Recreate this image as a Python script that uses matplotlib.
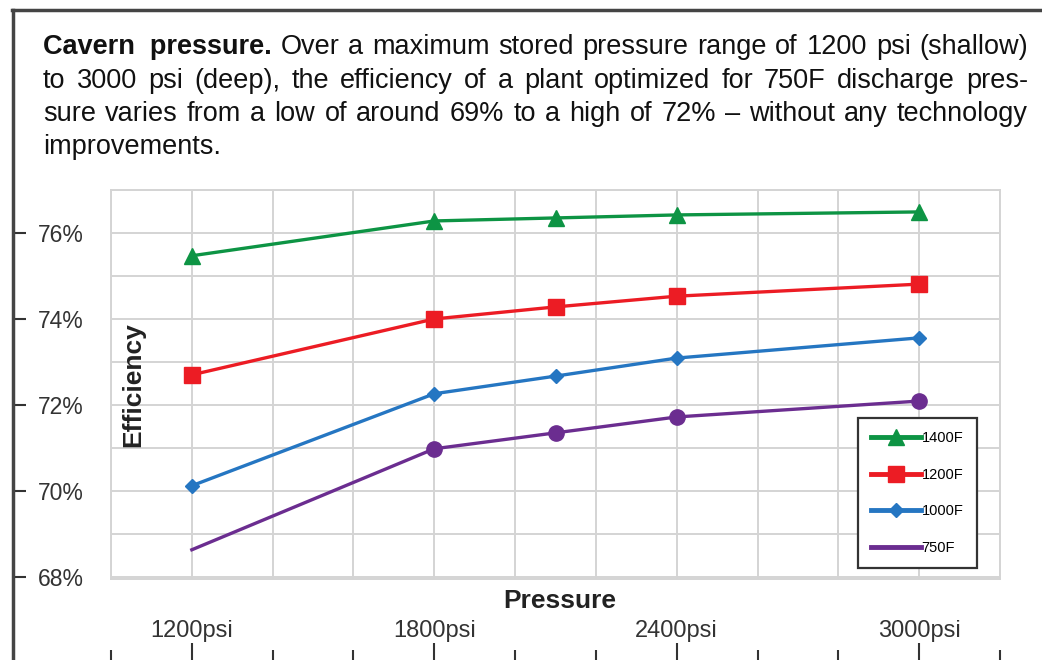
import matplotlib
matplotlib.use("Agg")
import matplotlib.pyplot as plt
from matplotlib.lines import Line2D
from matplotlib.ticker import FixedLocator

plt.rcParams['font.family'] = ['Liberation Sans', 'DejaVu Sans']

# data
pressure = [1200, 1800, 2100, 2400, 3000]
eff_1400 = [75.47, 76.28, 76.35, 76.42, 76.49]
eff_1200 = [72.70, 74.00, 74.28, 74.53, 74.81]
eff_1000 = [70.12, 72.26, 72.67, 73.09, 73.56]
eff_750 = [68.63, 70.98, 71.35, 71.72, 72.09]
y_ticks = [68, 70, 72, 74, 76]
x_major = [1200, 1800, 2400, 3000]
x_minor = [1000, 1400, 1600, 2000, 2200, 2600, 2800, 3200]

caption_bold = "Cavern  pressure."
caption_lines = [
    "Over a maximum stored pressure range of 1200 psi (shallow)",
    "to 3000 psi (deep), the efficiency of a plant optimized for 750F discharge pres-",
    "sure varies from a low of around 69% to a high of 72% \u2013 without any technology",
    "improvements.",
]

W, H = 1042, 660
XLIM = (1000, 3200)
YLIM = (67.95, 77)
fig = plt.figure(figsize=(W / 100, H / 100), dpi=100)


def fx(px):
    return px / W


def fy(py):
    return 1 - py / H


# main plot area
ax = fig.add_axes([fx(111), fy(579), fx(1000) - fx(111), fy(190) - fy(579)])
ax.set_xlim(*XLIM)
ax.set_ylim(*YLIM)
ax.xaxis.set_major_locator(FixedLocator(list(range(1000, 3201, 200))))
ax.yaxis.set_major_locator(FixedLocator(list(range(68, 78))))
ax.grid(True, color='#d4d4d4', lw=1.4)
ax.tick_params(length=0, labelbottom=False, labelleft=False)
for s in ax.spines.values():
    s.set_color('#d4d4d4')
    s.set_linewidth(1.4)

ax.plot(pressure, eff_1400, color='#0d9444', lw=2.4, marker='^', ms=11, label='1400F')
ax.plot(pressure, eff_1200, color='#ec1c24', lw=2.4, marker='s', ms=11, label='1200F')
ax.plot(pressure, eff_1000, color='#2576c2', lw=2.4, marker='D', ms=7, label='1000F')
ax.plot(pressure, eff_750, color='#6b2d90', lw=2.4, marker='o', ms=11,
        markevery=[1, 2, 3, 4], label='750F')

handles, labels = ax.get_legend_handles_labels()
handles[3] = Line2D([], [], color='#6b2d90', lw=2.4)
leg = ax.legend(handles, labels, loc='center', bbox_to_anchor=(0.907, 0.221),
                fontsize=10.5, handlelength=3.4, handletextpad=0.05,
                labelspacing=1.55, borderpad=0.9, fancybox=False,
                edgecolor='#333333', framealpha=1)
leg.get_frame().set_linewidth(1.6)
for h in leg.legend_handles:
    h.set_linewidth(3.5)

ax.text(0.025, 0.5, 'Efficiency', transform=ax.transAxes, rotation=90,
        fontsize=19, fontweight='bold', color='#222222', ha='center', va='center')

# y axis drawn on the far left frame line
ay = fig.add_axes([fx(13), fy(579), 0.0001, fy(190) - fy(579)])
ay.set_ylim(*YLIM)
for s in ay.spines.values():
    s.set_visible(False)
ay.yaxis.tick_right()
ay.set_yticks(y_ticks)
ay.set_yticklabels([f'{v}%' for v in y_ticks])
ay.tick_params(axis='y', direction='out', length=9, width=1.5, color='#333333',
               labelsize=16.5, labelcolor='#333333', pad=9)
ay.tick_params(axis='x', bottom=False, labelbottom=False)

# x axis strip at the bottom
axx = fig.add_axes([fx(111), 0, fx(1000) - fx(111), 18 / H])
axx.set_xlim(*XLIM)
axx.patch.set_alpha(0)
for s in axx.spines.values():
    s.set_visible(False)
axx.set_xticks(x_major)
axx.set_xticks(x_minor, minor=True)
axx.set_xticklabels([f'{v}psi' for v in x_major])
axx.tick_params(axis='x', which='both', direction='in', bottom=True, top=False,
                labelbottom=False, labeltop=True, color='#333333', width=1.5)
axx.tick_params(axis='x', which='major', length=12, labelsize=17,
                labelcolor='#333333', pad=0)
axx.tick_params(axis='x', which='minor', length=7)
axx.tick_params(axis='y', left=False, labelleft=False)

fig.text(fx(560), fy(601), 'Pressure', fontsize=19, fontweight='bold',
         color='#222222', ha='center', va='center')

# frame lines
fig.add_artist(Line2D([fx(13), fx(13)], [fy(10), 0], color='#444444', lw=2.5))
fig.add_artist(Line2D([fx(12), 1], [fy(10), fy(10)], color='#444444', lw=2.5))

# caption, justified like the printed page
fig.canvas.draw()
rend = fig.canvas.get_renderer()
left, right = 43, 1028
cap_size = 19.5
ys = [47, 81, 114, 147]


def width_of(s, bold=False):
    t = fig.text(0, 0, s, fontsize=cap_size, fontweight='bold' if bold else 'normal')
    w = t.get_window_extent(rend).width
    t.remove()
    return w


def put_justified(words, x0, x1, y, bold_first=None):
    widths = [width_of(w, bold=(i == 0 and bold_first)) for i, w in enumerate(words)]
    gap = (x1 - x0 - sum(widths)) / (len(words) - 1)
    x = x0
    for i, w in enumerate(words):
        fig.text(fx(x), fy(y), w, fontsize=cap_size, color='#111111',
                 fontweight='bold' if (i == 0 and bold_first) else 'normal',
                 va='center', ha='left')
        x += widths[i] + gap


put_justified([caption_bold] + caption_lines[0].split(' '), left, right, ys[0], bold_first=True)
put_justified(caption_lines[1].split(' '), left, right, ys[1])
put_justified(caption_lines[2].split(' '), left, right, ys[2])
fig.text(fx(left), fy(ys[3]), caption_lines[3], fontsize=cap_size, color='#111111',
         va='center', ha='left')

fig.savefig('out.png', dpi=100)
